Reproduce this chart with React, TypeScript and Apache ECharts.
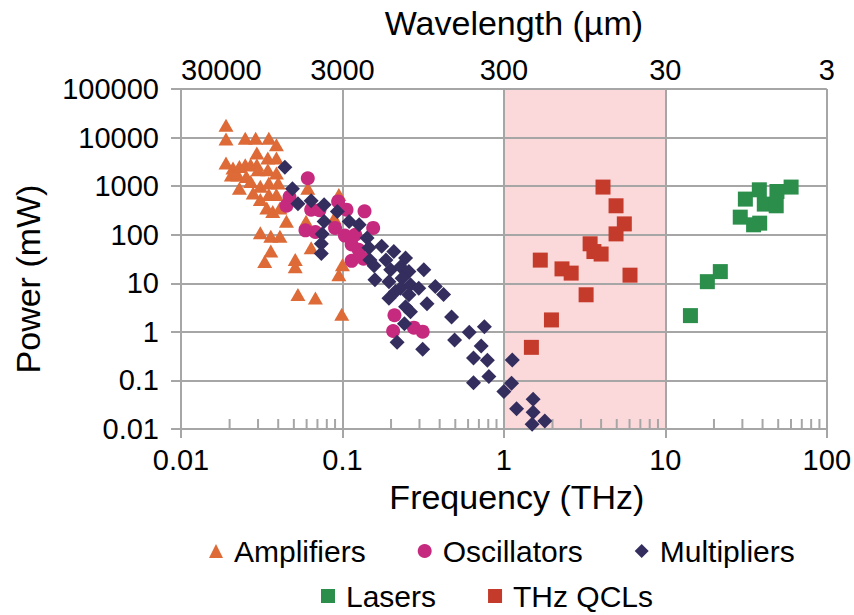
import { useEffect, useRef } from 'react';
import * as echarts from 'echarts';

const FONT = "'Liberation Sans', Arial, sans-serif";

const FREQ_TICK_LABELS = ['0.01', '0.1', '1', '10', '100'];
const WAVELENGTH_TICK_LABELS = ['30000', '3000', '300', '30', '3'];
const POWER_TICK_LABELS = ['0.01', '0.1', '1', '10', '100', '1000', '10000', '100000'];
const QCL_BAND = [1, 10];
const MINOR_DECADES = [0.01, 0.1, 1, 10];
const MINOR_MULTIPLES = [2, 3, 4, 5, 6, 7, 8, 9];

// [frequency THz, power mW]
const amplifiers = [
  [0.019, 18000], [0.019, 9300], [0.025, 9700], [0.029, 9700], [0.035, 9700], [0.039, 7100],
  [0.0295, 4800], [0.0345, 3800], [0.039, 3800], [0.019, 3000], [0.021, 2350], [0.023, 2550],
  [0.025, 2750], [0.027, 2750], [0.0295, 2750], [0.0205, 1700], [0.0225, 1700], [0.0254, 1580],
  [0.03, 2170], [0.0345, 2170], [0.039, 1860], [0.023, 910], [0.027, 1250], [0.031, 990],
  [0.035, 1160], [0.04, 1160], [0.028, 720], [0.031, 530], [0.035, 670], [0.039, 670],
  [0.034, 355], [0.037, 300], [0.041, 355], [0.045, 190], [0.061, 910], [0.0595, 190],
  [0.095, 670], [0.089, 220], [0.031, 110], [0.036, 93], [0.041, 93], [0.036, 46],
  [0.033, 28], [0.064, 54], [0.051, 31], [0.051, 22], [0.1, 24], [0.095, 15],
  [0.053, 5.9], [0.068, 5.0], [0.099, 2.3],
];

const oscillators = [
  [0.061, 1450], [0.047, 600], [0.045, 396], [0.064, 328], [0.072, 320], [0.094, 485],
  [0.106, 328], [0.137, 303], [0.059, 123], [0.068, 114], [0.09, 138], [0.1035, 96],
  [0.12, 100], [0.155, 138], [0.114, 63], [0.126, 49], [0.135, 32], [0.114, 29],
  [0.21, 2.2], [0.206, 1.04], [0.277, 1.22], [0.314, 1.01],
];

const multipliers = [
  [0.044, 2450], [0.049, 883], [0.053, 433], [0.064, 499], [0.077, 413], [0.093, 301],
  [0.077, 187], [0.11, 187], [0.127, 160], [0.075, 104], [0.074, 65], [0.074, 41],
  [0.142, 86], [0.146, 54], [0.148, 30], [0.157, 23], [0.159, 11.8], [0.175, 58],
  [0.208, 45], [0.186, 30], [0.246, 33], [0.199, 19], [0.229, 22], [0.258, 17.4],
  [0.319, 19], [0.234, 12.7], [0.264, 9.3], [0.229, 7.9], [0.194, 4.9], [0.194, 10.7],
  [0.213, 6.75], [0.258, 5.8], [0.297, 7.9], [0.376, 8.6], [0.423, 5.9], [0.334, 3.8],
  [0.246, 3.3], [0.264, 2.6], [0.242, 1.46], [0.218, 0.61], [0.314, 0.44], [0.474, 2.03],
  [0.495, 0.68], [0.61, 0.98], [0.757, 1.28], [0.723, 0.51], [0.648, 0.29], [0.79, 0.26],
  [1.127, 0.264], [0.648, 0.09], [0.807, 0.12], [1.115, 0.0875], [1.0, 0.059], [1.517, 0.041],
  [1.198, 0.026], [1.517, 0.022], [1.496, 0.0125], [1.792, 0.0146],
];

const lasers = [
  [14.3, 2.16], [18.2, 10.8], [21.9, 17.4], [31.3, 541], [38.2, 841], [29.1, 230],
  [35.2, 160], [38.4, 173], [41.0, 427], [48.6, 394], [49.1, 776], [60.1, 957],
];

const qcls = [
  [4.11, 957], [4.95, 394], [5.57, 167], [4.95, 104], [3.42, 65], [3.61, 45],
  [4.0, 40], [1.68, 30], [2.29, 19.8], [2.61, 16.2], [6.04, 14.7], [3.23, 5.8],
  [1.97, 1.76], [1.48, 0.48],
];

const GRID_COLOR = '#A6A6A6';

const idx = (v: number) => Math.round(Math.log10(v));

export default function App() {
  const ref = useRef<HTMLDivElement>(null);
  useEffect(() => {
    if (!ref.current) return;
    const chart = echarts.init(ref.current, null, { renderer: 'svg' });
    const minorTicks = MINOR_DECADES.flatMap((d) => MINOR_MULTIPLES.map((m) => [d * m, 0.01]));
    const labelStyle = { fontSize: 29, color: '#000', fontFamily: FONT };
    const nameStyle = { fontSize: 34, color: '#000', fontFamily: FONT };
    const legendText = { fontSize: 30, color: '#000', fontFamily: FONT, padding: [0, 0, 0, 6] };
    const marker = (color: string) => ({ color, opacity: 1 });
    chart.setOption({
      animation: false,
      textStyle: { fontFamily: FONT },
      grid: { left: 181, right: 24, top: 89, bottom: 186, containLabel: false },
      legend: [
        {
          data: ['Amplifiers', 'Oscillators', 'Multipliers'],
          top: 536, left: 209, itemGap: 52, itemWidth: 14, itemHeight: 14, padding: 0,
          selectedMode: false, textStyle: legendText,
        },
        {
          data: ['Lasers', 'THz QCLs'],
          top: 581, left: 321, itemGap: 52, itemWidth: 14, itemHeight: 14, padding: 0,
          selectedMode: false, textStyle: legendText,
        },
      ],
      xAxis: [
        {
          type: 'log', logBase: 10, min: 0.01, max: 100, position: 'bottom', z: 1.5,
          name: 'Frequency (THz)', nameLocation: 'middle', nameGap: 51,
          nameTextStyle: { ...nameStyle, padding: [0, 0, 0, 26] },
          axisLine: { show: true, lineStyle: { color: GRID_COLOR, width: 2 } },
          axisTick: { show: true, length: 9, lineStyle: { color: GRID_COLOR, width: 2 } },
          axisLabel: {
            ...labelStyle, margin: 16, showMinLabel: true, showMaxLabel: true,
            formatter: (v: number) => FREQ_TICK_LABELS[idx(v) + 2],
          },
          splitLine: { show: true, lineStyle: { color: GRID_COLOR, width: 2 } },
        },
        {
          type: 'log', logBase: 10, min: 0.01, max: 100, position: 'top', z: 1.5,
          name: 'Wavelength (µm)', nameLocation: 'middle', nameGap: 49,
          nameTextStyle: { ...nameStyle, padding: [0, 0, 0, 20] },
          axisLine: { show: false }, axisTick: { show: false }, splitLine: { show: false },
          axisLabel: {
            ...labelStyle, margin: 5, showMinLabel: true, showMaxLabel: true, alignMinLabel: 'left',
            formatter: (v: number) => WAVELENGTH_TICK_LABELS[idx(v) + 2],
          },
        },
      ],
      yAxis: {
        type: 'log', logBase: 10, min: 0.01, max: 100000, z: 1.5,
        name: 'Power (mW)', nameLocation: 'middle', nameGap: 136,
        nameTextStyle: { ...nameStyle, padding: [0, 40, 0, 0] },
        axisLine: { show: true, lineStyle: { color: GRID_COLOR, width: 2 } },
        axisTick: { show: true, length: 10, lineStyle: { color: GRID_COLOR, width: 2 } },
        axisLabel: {
          ...labelStyle, margin: 22, showMinLabel: true, showMaxLabel: true,
          formatter: (v: number) => POWER_TICK_LABELS[idx(v) + 2],
        },
        splitLine: { show: true, lineStyle: { color: GRID_COLOR, width: 2 } },
      },
      series: [
        {
          name: 'band', type: 'scatter', data: [], z: 1, silent: true,
          markArea: {
            silent: true, z: 1,
            itemStyle: { color: '#FBD9DB', opacity: 1 },
            data: [[{ xAxis: QCL_BAND[0] }, { xAxis: QCL_BAND[1] }]],
          },
        },
        {
          name: 'minorTicks', type: 'scatter', data: minorTicks, silent: true, clip: false, z: 2,
          symbol: 'rect', symbolSize: [2, 10], symbolOffset: [0, -5],
          itemStyle: { color: GRID_COLOR, opacity: 1 },
        },
        {
          name: 'Amplifiers', type: 'scatter', data: amplifiers, z: 3,
          symbol: 'triangle', symbolSize: [15, 13], itemStyle: marker('#DD6A37'),
        },
        {
          name: 'Oscillators', type: 'scatter', data: oscillators, z: 3,
          symbol: 'circle', symbolSize: 14, itemStyle: marker('#C62A7F'),
        },
        {
          name: 'Multipliers', type: 'scatter', data: multipliers, z: 3,
          symbol: 'diamond', symbolSize: 15, itemStyle: marker('#342E5F'),
        },
        {
          name: 'Lasers', type: 'scatter', data: lasers, z: 3,
          symbol: 'rect', symbolSize: 15, itemStyle: marker('#2B8F4B'),
        },
        {
          name: 'THz QCLs', type: 'scatter', data: qcls, z: 3,
          symbol: 'rect', symbolSize: 15, itemStyle: marker('#C53B2B'),
        },
      ],
    });
    return () => chart.dispose();
  }, []);
  return (
    <div
      ref={ref}
      style={{ position: 'fixed', left: 0, top: 0, width: 854, height: 615, background: '#fff' }}
    />
  );
}
